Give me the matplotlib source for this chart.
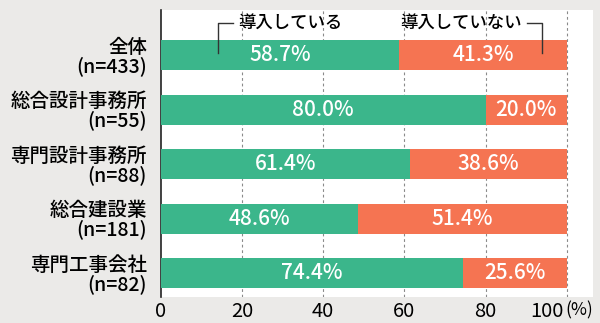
import numpy as np
import matplotlib.pyplot as plt

plt.rcParams['font.family'] = ['Noto Sans CJK JP', 'DejaVu Sans']

# 導入状況（%）
categories = ['全体\n(n=433)', '総合設計事務所\n(n=55)', '専門設計事務所\n(n=88)',
              '総合建設業\n(n=181)', '専門工事会社\n(n=82)']
adopted = [58.7, 80.0, 61.4, 48.6, 74.4]
not_adopted = [41.3, 20.0, 38.6, 51.4, 25.6]
xticks = [0, 20, 40, 60, 80, 100]

green = '#3bb68b'
orange = '#f57452'

fig = plt.figure(figsize=(6, 3.23), dpi=100, facecolor='#ebeae8')
ax = fig.add_axes([0.268, 0.0805, 0.72, 0.8885])
ax.set_facecolor('white')

y = np.arange(len(categories))
ax.barh(y, adopted, height=0.55, color=green, zorder=3)
ax.barh(y, not_adopted, left=adopted, height=0.55, color=orange, zorder=3)

for yi, a, n in zip(y, adopted, not_adopted):
    ax.text(a / 2, yi, f'{a:.1f}%', ha='center', va='center', color='white',
            fontsize=15, fontweight='medium', zorder=4)
    ax.text(a + n / 2, yi, f'{n:.1f}%', ha='center', va='center', color='white',
            fontsize=15, fontweight='medium', zorder=4)

ax.set_ylim(len(categories) - 1 + 0.44, -0.826)
ax.set_xlim(0, 106.4)
ax.set_yticks(y)
ax.set_yticklabels(categories, fontsize=14, linespacing=0.95, fontweight='medium')
ax.set_xticks(xticks)
ax.set_xticklabels([str(t) for t in xticks[:-1]] + [''], fontsize=14.5)
ax.tick_params(length=0, pad=3)
ax.tick_params(axis='y', pad=10)

# 100 と単位は右寄せでまとめて描く
xt = ax.get_xaxis_transform()
ax.annotate('100', xy=(99.2, 0), xycoords=xt, xytext=(0, -4),
            textcoords='offset pixels', ha='right', va='top', fontsize=14.5)
ax.annotate('(%)', xy=(99.6, 0), xycoords=xt, xytext=(0, -4),
            textcoords='offset pixels', ha='left', va='top', fontsize=12.5)

for t in xticks[1:]:
    ax.axvline(t, color='#8a8a8a', lw=0.8, ls=(0, (2.5, 2.5)), zorder=1)

for side in ['top', 'right', 'bottom']:
    ax.spines[side].set_visible(False)
ax.spines['left'].set_color('#222222')
ax.spines['left'].set_linewidth(1.2)

# 凡例ラベルと引き出し線
ax.plot([17.7, 14.0, 14.0], [-0.587, -0.587, -0.04], color='#333333', lw=1.0, zorder=5)
ax.text(19.0, -0.587, '導入している', ha='left', va='center', fontsize=12.5,
        fontweight='medium', zorder=5)
ax.plot([90.1, 93.8, 93.8], [-0.587, -0.587, -0.04], color='#333333', lw=1.0, zorder=5)
ax.text(88.9, -0.587, '導入していない', ha='right', va='center', fontsize=12.5,
        fontweight='medium', zorder=5)

fig.savefig('out.png', dpi=100, facecolor=fig.get_facecolor())
